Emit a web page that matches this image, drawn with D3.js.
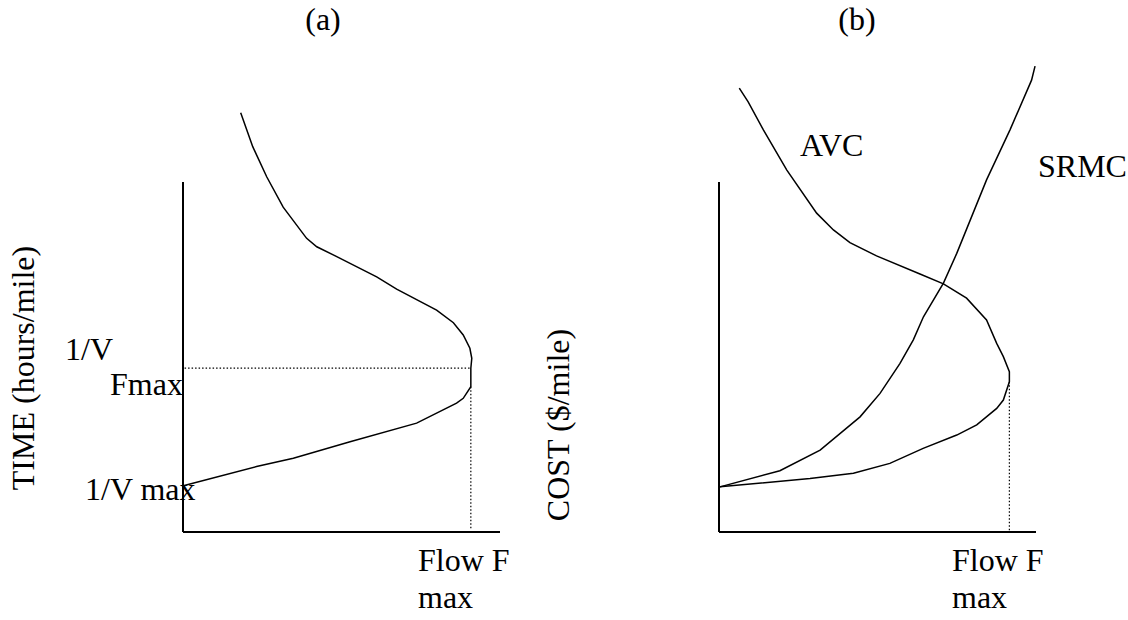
<!DOCTYPE html>
<html>
<head>
<meta charset="utf-8">
<script src="https://cdn.jsdelivr.net/npm/d3@7"></script>
<style>
	html, body { margin: 0; padding: 0; background: white; }
	#outer { width: 1128px; height: 620px; }
</style>
</head>
<body>
<div id="outer"></div>
<script>
////////// DATA //////////
// flow on x (0..100 = axis length), time / cost on y (0..100 = axis height)
const timeFlow = [18.2, 22.0, 26.4, 31.6, 39.0, 42.2, 48.5, 61.1, 67.4, 80.0, 85.3, 88.4, 90.5, 91.1, 90.8, 90.8, 88.4, 86.3, 73.7, 52.7, 34.8, 23.2, 0.1];
const timeValues = [119.8, 110.1, 101.5, 92.8, 83.9, 81.5, 78.7, 72.9, 69.4, 63.4, 59.8, 56.3, 52.5, 49.6, 46.8, 41.5, 38.2, 36.8, 31.1, 25.8, 21.1, 18.7, 13.2];

const avcFlow = [6.4, 9.2, 14.0, 21.4, 30.8, 36.1, 41.3, 49.7, 63.4, 70.8, 78.1, 84.4, 87.6, 89.7, 91.6, 91.6, 89.7, 87.6, 81.3, 75.0, 64.4, 53.9, 42.4, 28.7, 0.3];
const avcValues = [126.8, 122.9, 114.9, 103.4, 91.1, 86.3, 82.7, 78.9, 73.7, 70.9, 66.8, 60.6, 53.9, 50.1, 45.8, 42.9, 37.7, 35.3, 30.6, 27.7, 23.9, 19.6, 16.8, 15.3, 12.9];

const srmcFlow = [0.3, 19.2, 31.9, 44.5, 50.8, 57.1, 61.3, 64.5, 70.8, 75.0, 84.4, 91.8, 98.6, 99.7];
const srmcValues = [12.9, 17.5, 23.4, 32.9, 39.6, 48.2, 54.9, 61.5, 71.1, 79.6, 100.6, 114.9, 129.1, 133.1];

// max-flow markers: [flow, level where h-guide sits, level where v-guide starts]
const timeFmax = [90.8, 46.8, 41.5];
const costFmax = [91.6, 42.9];

const panelTitles = ['(a)', '(b)'];
const yTitles = ['TIME (hours/mile)', 'COST ($/mile)'];


////////////////////////////////////////////////////////////////
	// Setup
////////////////////////////////////////////////////////////////
const W = 1128, H = 620;
const FONT = '32px "Liberation Serif", "Times New Roman", serif';

const svg = d3.select('#outer').append('svg')
	.attr('width', W)
	.attr('height', H)
	.style('font', FONT);

const xScale = d3.scaleLinear().domain([0, 100]).range([0, 317]);
const yScale = d3.scaleLinear().domain([0, 100]).range([350, 0]);

const line = d3.line()
	.x(d => xScale(d[0]))
	.y(d => yScale(d[1]))
	.curve(d3.curveLinear);

const drawFrame = (g) => {
	g.append('line')
		.attr('x1', xScale(0)).attr('x2', xScale(0))
		.attr('y1', yScale(0)).attr('y2', yScale(100))
		.attr('stroke', 'black').attr('stroke-width', 2);
	g.append('line')
		.attr('x1', xScale(0)).attr('x2', xScale(100))
		.attr('y1', yScale(0)).attr('y2', yScale(0))
		.attr('stroke', 'black').attr('stroke-width', 2);
};

const drawCurve = (g, xs, ys) => {
	g.append('path')
		.datum(d3.zip(xs, ys))
		.attr('d', line)
		.attr('fill', 'none')
		.attr('stroke', 'black')
		.attr('stroke-width', 1.5);
};

const dotted = (g, x1, y1, x2, y2) => {
	g.append('line')
		.attr('x1', xScale(x1)).attr('y1', yScale(y1))
		.attr('x2', xScale(x2)).attr('y2', yScale(y2))
		.attr('stroke', 'black')
		.attr('stroke-width', 1.2)
		.attr('stroke-dasharray', '1.5,2');
};


////////////////////////////////////////////////////////////////
	// Panel (a)
////////////////////////////////////////////////////////////////
const ga = svg.append('g').attr('transform', 'translate(183,182)');
drawFrame(ga);
drawCurve(ga, timeFlow, timeValues);
dotted(ga, 0.5, timeFmax[1], timeFmax[0], timeFmax[1]);
dotted(ga, timeFmax[0], timeFmax[2], timeFmax[0], 0.5);

svg.append('text').attr('x', 323).attr('y', 30).attr('text-anchor', 'middle').text(panelTitles[0]);
svg.append('text')
	.attr('transform', 'translate(34,368) rotate(-90)')
	.attr('text-anchor', 'middle')
	.text(yTitles[0]);
svg.append('text').attr('x', 65).attr('y', 360).text('1/V');
svg.append('text').attr('x', 110).attr('y', 395).text('Fmax');
svg.append('text').attr('x', 85).attr('y', 500).text('1/V max');
svg.append('text').attr('x', 418).attr('y', 571).text('Flow F');
svg.append('text').attr('x', 418).attr('y', 608).text('max');


////////////////////////////////////////////////////////////////
	// Panel (b)
////////////////////////////////////////////////////////////////
const gb = svg.append('g').attr('transform', 'translate(719,182)');
drawFrame(gb);
drawCurve(gb, avcFlow, avcValues);
drawCurve(gb, srmcFlow, srmcValues);
dotted(gb, costFmax[0], costFmax[1], costFmax[0], 0.5);

svg.append('text').attr('x', 857).attr('y', 30).attr('text-anchor', 'middle').text(panelTitles[1]);
svg.append('text')
	.attr('transform', 'translate(569,425) rotate(-90)')
	.attr('text-anchor', 'middle')
	.text(yTitles[1]);
svg.append('text').attr('x', 800).attr('y', 156).text('AVC');
svg.append('text').attr('x', 1038).attr('y', 177).text('SRMC');
svg.append('text').attr('x', 952).attr('y', 571).text('Flow F');
svg.append('text').attr('x', 952).attr('y', 608).text('max');
</script>
</body>
</html>
